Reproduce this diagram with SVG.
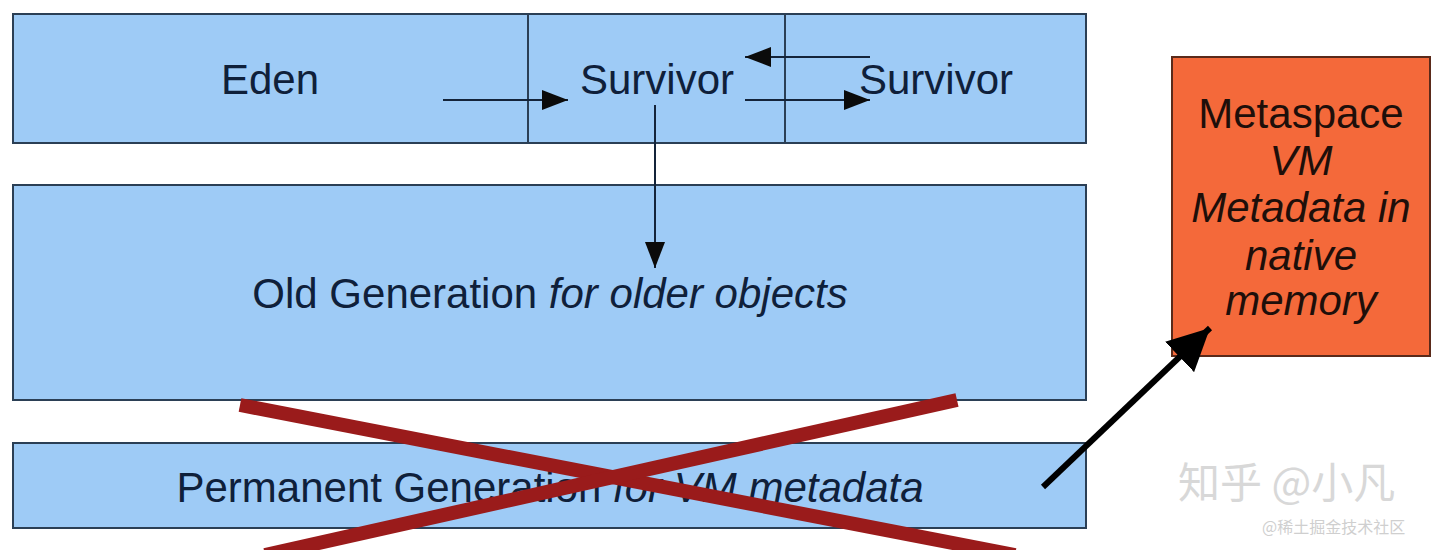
<svg xmlns="http://www.w3.org/2000/svg" width="1440" height="550" viewBox="0 0 1440 550">
<style>
.box{fill:#9ecbf6;stroke:#2b3f55;stroke-width:2}
.t{font-family:"Liberation Sans",Arial,sans-serif;font-size:42px;fill:#0f203a;text-anchor:middle}
.m{fill:#1e0f0a}
.i{font-style:italic}
.c{stroke:#14243a;stroke-width:2;fill:none}
.x{stroke:#9a1b1b;stroke-width:14;stroke-linecap:butt}
</style>
<defs>
<marker id="ah" viewBox="0 0 10 10" refX="10" refY="5" markerWidth="26" markerHeight="20" markerUnits="userSpaceOnUse" orient="auto" preserveAspectRatio="none"><path d="M0,0 L10,5 L0,10 z" fill="#0b0b0b"/></marker>
<marker id="ah2" viewBox="0 0 10 10" refX="10" refY="5" markerWidth="7" markerHeight="7" orient="auto"><path d="M0,0 L10,5 L0,10 z" fill="#000"/></marker>
</defs>
<rect width="1440" height="550" fill="#fff"/>
<g id="young">
<rect class="box" x="13" y="14" width="1073" height="129"/>
<line x1="528" y1="14" x2="528" y2="143" stroke="#2b3f55" stroke-width="2"/>
<line x1="785" y1="14" x2="785" y2="143" stroke="#2b3f55" stroke-width="2"/>
</g>
<g id="eden"><text class="t" x="270" y="94">Eden</text></g>
<g id="survivor1"><text class="t" x="657" y="94">Survivor</text></g>
<g id="survivor2"><text class="t" x="936" y="94">Survivor</text></g>
<g id="old">
<rect class="box" x="13" y="185" width="1073" height="215"/>
<text class="t" x="550" y="308">Old Generation <tspan class="i">for older objects</tspan></text>
</g>
<g id="perm">
<rect class="box" x="13" y="443" width="1073" height="85"/>
<text class="t" x="550" y="502">Permanent Generation <tspan class="i">for VM metadata</tspan></text>
</g>
<g id="metaspace">
<rect x="1172" y="57" width="258" height="299" fill="#f4693a" stroke="#5a2a1a" stroke-width="2"/>
<text class="t m" x="1301" y="128">Metaspace</text>
<text class="t m i" x="1301" y="175">VM</text>
<text class="t m i" x="1301" y="222">Metadata in</text>
<text class="t m i" x="1301" y="270">native</text>
<text class="t m i" x="1301" y="315">memory</text>
</g>
<g id="connectors">
<line class="c" x1="443" y1="100" x2="568" y2="100" marker-end="url(#ah)"/>
<line class="c" x1="870" y1="57" x2="745" y2="57" marker-end="url(#ah)"/>
<line class="c" x1="745" y1="100" x2="870" y2="100" marker-end="url(#ah)"/>
<line class="c" x1="655" y1="105" x2="655" y2="268" marker-end="url(#ah)"/>
<line x1="1043" y1="487" x2="1210" y2="328" stroke="#000" stroke-width="6" marker-end="url(#ah2)"/>
</g>
<g id="cross">
<line class="x" x1="240" y1="405" x2="1015" y2="555"/>
<line class="x" x1="957" y1="400" x2="265" y2="555"/>
</g>
<g id="watermark" font-family="'Noto Sans CJK SC',sans-serif" fill="#d8d8d8">
<text x="1178" y="498" font-size="42">知乎 @小凡</text>
<text x="1262" y="533" font-size="16" fill="#cfcfcf">@稀土掘金技术社区</text>
</g>
</svg>
